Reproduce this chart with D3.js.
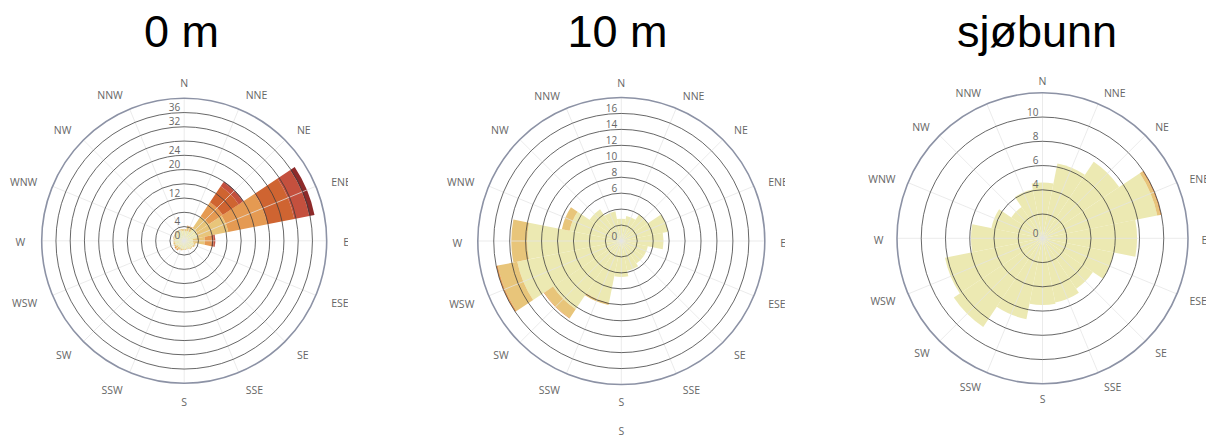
<!DOCTYPE html>
<html><head><meta charset="utf-8">
<script src="https://cdn.jsdelivr.net/npm/d3@7/dist/d3.min.js"></script>
<style>html,body{margin:0;padding:0;background:#fff;}svg{display:block;}</style>
</head><body>
<script>
const directions = ['N','NNE','NE','ENE','E','ESE','SE','SSE','S','SSW','SW','WSW','W','WNW','NW','NNW'];
const titles = ['0 m', '10 m', 'sjøbunn'];

// 0 m — stacked speed classes (percent)
const m0_c1 = [2.8,2.9,4.3,4.0,2.5,2.8,2.6,2.3,2.4,2.3,2.2,2.6,2.7,2.9,2.9,3.0];
const m0_c2 = [0.5,1.3,4.0,8.6,3.3,0.5,0.3,0.2,0.2,0.5,0.7,0.5,0.3,0.3,0.4,0.4];
const m0_c3 = [0,0.2,4.7,11.2,1.9,0,0,0,0,0,0.4,0,0,0,0,0];
const m0_c4 = [0,0,5.4,7.7,0.6,0,0,0,0,0,0,0,0,0,0,0];
const m0_c5 = [0,0,1.4,4.3,0.4,0,0,0,0,0,0,0,0,0,0,0];
const m0_c6 = [0,0,0.2,1.5,0.05,0,0,0,0,0,0,0,0,0,0,0];

// 10 m
const m10_c1 = [2.8,3.2,4.0,6.0,5.3,3.4,3.4,3.8,4.5,7.9,10.3,13.3,11.8,6.6,4.8,3.8];
const m10_c2 = [0,0,0,0,0,0,0,0,0,0.3,1.3,2.5,2.0,1.0,0,0];
const m10_c3 = [0,0,0,0,0,0,0,0,0,0,0.1,0.2,0,0,0,0];
const m10_c4 = [0,0,0,0,0,0,0,0,0,0,0,0,0,0,0,0];
const m10_c5 = [0,0,0,0,0,0,0,0,0,0,0,0,0,0,0,0];
const m10_c6 = [0,0,0,0,0,0,0,0,0,0,0,0,0,0,0,0];

// sjøbunn
const sb_c1 = [4.6,6.3,7.6,9.65,7.8,6.0,5.0,5.4,5.5,6.8,8.8,8.2,5.9,4.3,3.1,4.1];
const sb_c2 = [0,0,0,0.25,0,0,0,0,0,0,0,0,0,0,0,0];
const sb_c3 = [0,0,0,0.1,0,0,0,0,0,0,0,0,0,0,0,0];
const sb_c4 = [0,0,0,0,0,0,0,0,0,0,0,0,0,0,0,0];
const sb_c5 = [0,0,0,0,0,0,0,0,0,0,0,0,0,0,0,0];
const sb_c6 = [0,0,0,0,0,0,0,0,0,0,0,0,0,0,0,0];

// radial axis: max, grid step, visible tick labels
const axisMax = [40, 18, 12];
const axisStep = [4, 2, 2];
const tickLabels0 = [0,4,12,20,24,32,36];
const tickLabels10 = [0,6,8,10,12,14,16];
const tickLabelsSb = [0,4,6,8,10];

const classKeys = ['c1','c2','c3','c4','c5','c6'];
const classColors = ['#ece9b2','#e8c57a','#e59a52','#cf6431','#c4503e','#8e2a2a'];

const seriesSets = [
  [m0_c1,m0_c2,m0_c3,m0_c4,m0_c5,m0_c6],
  [m10_c1,m10_c2,m10_c3,m10_c4,m10_c5,m10_c6],
  [sb_c1,sb_c2,sb_c3,sb_c4,sb_c5,sb_c6]
];
const tickSets = [tickLabels0, tickLabels10, tickLabelsSb];

// layout
const layout = [
  {cx:184.2, cy:240.8, R:142.5, titleX:181.5, clipX0:0, clipX1:348},
  {cx:621.3, cy:241.0, R:143.5, titleX:617.5, clipX0:420, clipX1:785},
  {cx:1042.5, cy:238.3, R:145.5, titleX:1037, clipX0:840, clipX1:1206}
];

const svg = d3.select('body').append('svg').attr('width',1206).attr('height',437);

const labelFont = "'Open Sans', 'Noto Sans', sans-serif";

layout.forEach((L, k) => {
  const clipId = 'clip'+k;
  svg.append('clipPath').attr('id', clipId).append('rect')
    .attr('x', L.clipX0).attr('y', 0).attr('width', L.clipX1 - L.clipX0).attr('height', 437);
  const root = svg.append('g').attr('clip-path', `url(#${clipId})`);

  // title
  svg.append('text').attr('x', L.titleX).attr('y', 46.5)
    .attr('text-anchor','middle')
    .style('font-family', "'Liberation Sans', Arial, sans-serif")
    .style('font-size','45px').style('fill','#000')
    .text(titles[k]);

  const g = root.append('g').attr('transform', `translate(${L.cx},${L.cy})`);

  const r = d3.scaleLinear().domain([0, axisMax[k]]).range([0, L.R]);
  const ang = d3.scaleBand().domain(directions)
    .range([-Math.PI/16, 2*Math.PI - Math.PI/16]).paddingInner(0).paddingOuter(0);

  // build table for stacking
  const rows = directions.map((d, i) => {
    const o = {dir: d};
    classKeys.forEach((key, j) => o[key] = seriesSets[k][j][i]);
    return o;
  });
  const stacked = d3.stack().keys(classKeys)(rows);

  const arc = d3.arc();
  stacked.forEach((layer, j) => {
    g.append('g').selectAll('path').data(layer.filter(s => s[1] - s[0] > 0)).join('path')
      .attr('d', s => arc({
        innerRadius: r(s[0]), outerRadius: r(s[1]),
        startAngle: ang(s.data.dir), endAngle: ang(s.data.dir) + ang.bandwidth()
      }))
      .attr('fill', classColors[j]);
  });

  // spokes
  g.append('g').selectAll('line').data(directions).join('line')
    .attr('x1', 0).attr('y1', 0)
    .attr('x2', d => L.R * Math.sin(ang(d) + ang.bandwidth()/2))
    .attr('y2', d => -L.R * Math.cos(ang(d) + ang.bandwidth()/2))
    .attr('stroke', '#e4e4e4').attr('stroke-opacity', 0.75).attr('stroke-width', 1);

  // rings
  const rings = d3.range(axisStep[k], axisMax[k], axisStep[k]);
  g.append('g').selectAll('circle').data(rings).join('circle')
    .attr('r', v => r(v)).attr('fill','none')
    .attr('stroke', 'rgba(60,60,60,0.78)').attr('stroke-width', 1);
  g.append('circle').attr('r', r(axisMax[k])).attr('fill','none')
    .attr('stroke', '#8c92a5').attr('stroke-width', 1.6);

  // radial tick labels
  g.append('g').selectAll('text').data(tickSets[k]).join('text')
    .attr('x', -4).attr('y', v => -r(v) - 1.5)
    .attr('text-anchor','end')
    .style('font-family', labelFont).style('font-size','10px').style('fill','#666')
    .text(v => v);

  // direction labels
  const labelR = 158;
  const dirLabel = (d, extraY) => {
    const a = ang(d) + ang.bandwidth()/2;
    const s = Math.sin(a), c = Math.cos(a);
    let x = labelR * s;
    const anchor = s > 0.1 ? 'start' : (s < -0.1 ? 'end' : 'middle');
    if (anchor === 'start') x += 1;
    if (anchor === 'end') x -= 1;
    const y = -labelR * c + 0.8 + 1.2 * (1 - c) + (extraY || 0);
    return {x, y, anchor};
  };
  g.append('g').selectAll('text').data(directions).join('text')
    .each(function(d){
      const p = dirLabel(d);
      d3.select(this).attr('x', p.x).attr('y', p.y).attr('text-anchor', p.anchor);
    })
    .attr('dy','0.35em')
    .style('font-family', labelFont).style('font-size','10.5px').style('fill','#666')
    .text(d => d);

  // duplicated south label that appears under the 10 m rose
  if (k === 1) {
    const p = dirLabel('S', 29.5);
    g.append('text').attr('x', p.x).attr('y', p.y).attr('dy','0.35em')
      .attr('text-anchor','middle')
      .style('font-family', labelFont).style('font-size','10.5px').style('fill','#666')
      .text('S');
  }
});
</script>
</body></html>
